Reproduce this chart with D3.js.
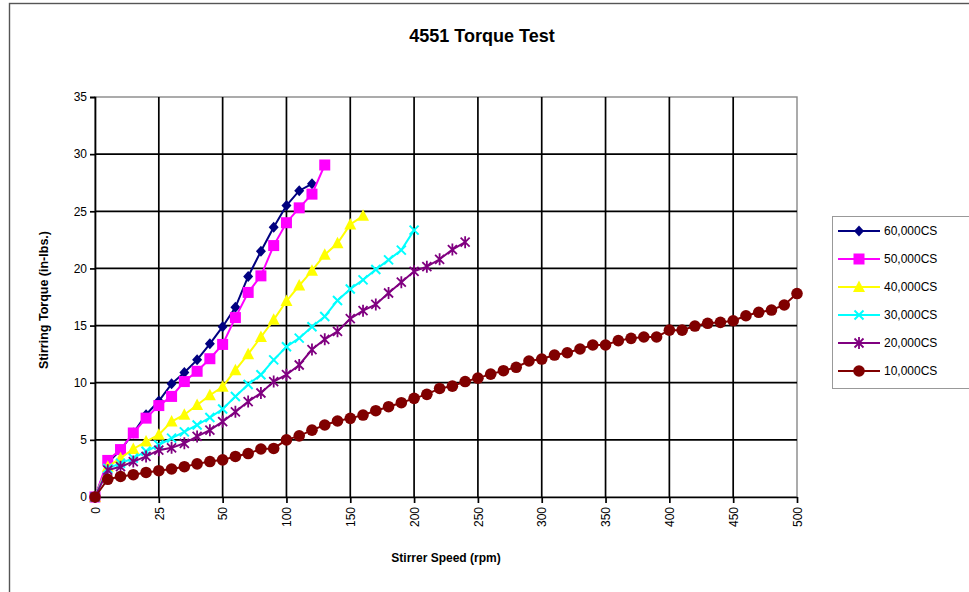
<!DOCTYPE html>
<html>
<head>
<meta charset="utf-8">
<script src="https://cdn.jsdelivr.net/npm/d3@7"></script>
<style>
  body { margin: 0; background: #fff; }
  svg { font-family: Arial, "Liberation Sans", sans-serif; }
</style>
</head>
<body>
<svg id="chart" width="969" height="592"></svg>
<script>
// category axis (Excel line chart) - speeds in rpm
var speeds = [0, 5, 10, 15, 20, 25, 30, 35, 40, 45, 50,
    60, 70, 80, 90, 100, 110, 120, 130, 140, 150, 160, 170, 180, 190, 200,
    210, 220, 230, 240, 250, 260, 270, 280, 290, 300, 310, 320, 330, 340, 350,
    360, 370, 380, 390, 400, 410, 420, 430, 440, 450, 460, 470, 480, 490, 500];
var xTickLabels = [0, 25, 50, 100, 150, 200, 250, 300, 350, 400, 450, 500];
var yTicks = [0, 5, 10, 15, 20, 25, 30, 35];

var seriesNames = ["60,000CS", "50,000CS", "40,000CS", "30,000CS", "20,000CS", "10,000CS"];
var seriesColors = ["#000080", "#ff00ff", "#ffff00", "#00ffff", "#800080", "#800000"];
var seriesMarkers = ["diamond", "square", "triangle", "x", "star", "circle"];

// torque (in-lbs) per speed category, series stop where the test stopped
var torque60k = [0, 3.0, 4.1, 5.6, 7.2, 8.4, 9.9, 10.9, 12.0, 13.4, 14.9,
    16.6, 19.3, 21.5, 23.6, 25.5, 26.8, 27.4];
var torque50k = [0, 3.2, 4.15, 5.6, 6.9, 8.0, 8.8, 10.1, 11.0, 12.1, 13.35,
    15.7, 17.9, 19.35, 22.0, 24.0, 25.3, 26.5, 29.05];
var torque40k = [0, 2.65, 3.4, 4.2, 4.85, 5.45, 6.6, 7.2, 8.05, 8.9, 9.65,
    11.1, 12.5, 14.0, 15.5, 17.15, 18.5, 19.8, 21.2, 22.2, 23.85, 24.6];
var torque30k = [0, 2.5, 2.95, 3.4, 4.0, 4.55, 5.15, 5.7, 6.3, 6.95, 7.7,
    8.8, 9.85, 10.7, 12.0, 13.15, 13.9, 14.9, 15.8, 17.2, 18.2, 19.0, 19.9, 20.75, 21.6, 23.35];
var torque20k = [0, 2.35, 2.65, 3.1, 3.55, 4.1, 4.3, 4.7, 5.3, 5.85, 6.6,
    7.45, 8.35, 9.1, 10.1, 10.7, 11.55, 12.9, 13.8, 14.5, 15.6, 16.3, 16.85, 17.85, 18.8, 19.75,
    20.15, 20.8, 21.65, 22.3];
var torque10k = [0, 1.55, 1.8, 1.95, 2.15, 2.3, 2.45, 2.65, 2.9, 3.1, 3.25,
    3.55, 3.8, 4.2, 4.25, 5.0, 5.35, 5.85, 6.3, 6.65, 6.88, 7.17, 7.55, 7.9, 8.25, 8.63,
    8.98, 9.5, 9.7, 10.1, 10.4, 10.75, 11.05, 11.35, 11.9, 12.07, 12.42, 12.62, 12.95, 13.3, 13.3,
    13.68, 13.88, 14.0, 14.0, 14.6, 14.6, 14.96, 15.2, 15.28, 15.42, 15.86, 16.16, 16.36, 16.8, 17.8];

var allSeries = [torque60k, torque50k, torque40k, torque30k, torque20k, torque10k];

var svg = d3.select("#chart"),
    plot = {left: 95, right: 797, top: 97, bottom: 497};

var x = d3.scalePoint().domain(speeds).range([plot.left, plot.right]),
    y = d3.scaleLinear().domain([0, 35]).range([plot.bottom, plot.top]);

// outer chart border
svg.append("rect")
    .attr("x", 9.5).attr("y", 3.5)
    .attr("width", 975).attr("height", 600)
    .attr("fill", "none").attr("stroke", "#555").attr("stroke-width", 1.4);

// title
svg.append("text")
    .attr("x", 482).attr("y", 42)
    .attr("text-anchor", "middle")
    .attr("font-size", 18).attr("font-weight", "bold")
    .text("4551 Torque Test");

// plot border (gray) then gridlines (black)
svg.append("rect")
    .attr("x", plot.left).attr("y", plot.top)
    .attr("width", plot.right - plot.left).attr("height", plot.bottom - plot.top)
    .attr("fill", "none").attr("stroke", "#888").attr("stroke-width", 1.4);

svg.append("g").selectAll("line")
    .data(yTicks.filter(function (d) { return d > 0 && d < 35; }))
    .enter().append("line")
    .attr("x1", plot.left).attr("x2", plot.right)
    .attr("y1", function (d) { return y(d); }).attr("y2", function (d) { return y(d); })
    .attr("stroke", "#000").attr("stroke-width", 1.7);

svg.append("g").selectAll("line")
    .data(xTickLabels.filter(function (d) { return d > 0 && d < 500; }))
    .enter().append("line")
    .attr("x1", function (d) { return x(d); }).attr("x2", function (d) { return x(d); })
    .attr("y1", plot.top).attr("y2", plot.bottom)
    .attr("stroke", "#000").attr("stroke-width", 1.7);

// axes
var yAxis = d3.axisLeft(y).tickValues(yTicks).tickSize(5).tickPadding(3);
var gy = svg.append("g")
    .attr("transform", "translate(" + plot.left + ",0)")
    .call(yAxis);
gy.select(".domain").attr("stroke-width", 1.7);
gy.selectAll(".tick line").attr("stroke-width", 1.7);
gy.selectAll("text").attr("font-size", 12).attr("font-family", "Arial, 'Liberation Sans', sans-serif");

var xAxis = d3.axisBottom(x).tickValues(xTickLabels).tickSize(6).tickSizeOuter(0);
var gx = svg.append("g")
    .attr("transform", "translate(0," + plot.bottom + ")")
    .call(xAxis);
gx.select(".domain").attr("stroke-width", 1.7);
gx.selectAll(".tick line").attr("stroke-width", 1.7);
gx.selectAll("text")
    .attr("font-size", 12).attr("font-family", "Arial, 'Liberation Sans', sans-serif")
    .attr("text-anchor", "end")
    .attr("x", -10).attr("y", 0).attr("dy", "0.35em")
    .attr("transform", "rotate(-90)");

// axis titles
svg.append("text")
    .attr("transform", "translate(48,300) rotate(-90)")
    .attr("text-anchor", "middle")
    .attr("font-size", 12.5).attr("font-weight", "bold")
    .text("Stirring Torque (in-lbs.)");

svg.append("text")
    .attr("x", 446).attr("y", 562)
    .attr("text-anchor", "middle")
    .attr("font-size", 12).attr("font-weight", "bold")
    .text("Stirrer Speed (rpm)");

function drawMarker(g, type, color) {
    if (type === "diamond") {
        g.append("path").attr("d", "M0,-5.5L5,0L0,5.5L-5,0Z").attr("fill", color);
    } else if (type === "square") {
        g.append("rect").attr("x", -5.5).attr("y", -5.5).attr("width", 11).attr("height", 11).attr("fill", color);
    } else if (type === "triangle") {
        g.append("path").attr("d", "M0,-6.5L6,5L-6,5Z").attr("fill", color);
    } else if (type === "x") {
        g.append("path").attr("d", "M-4.5,-4.5L4.5,4.5M-4.5,4.5L4.5,-4.5")
            .attr("stroke", color).attr("stroke-width", 2).attr("fill", "none");
    } else if (type === "star") {
        g.append("path").attr("d", "M-4.5,-4.5L4.5,4.5M-4.5,4.5L4.5,-4.5M0,-6L0,6")
            .attr("stroke", color).attr("stroke-width", 1.8).attr("fill", "none");
    } else {
        g.append("circle").attr("r", 5.8).attr("fill", color);
    }
}

var line = d3.line()
    .x(function (d, i) { return x(speeds[i]); })
    .y(function (d) { return y(d); });

allSeries.forEach(function (vals, si) {
    var g = svg.append("g").attr("class", "series");
    g.append("path")
        .attr("d", line(vals))
        .attr("fill", "none")
        .attr("stroke", seriesColors[si])
        .attr("stroke-width", 2);
    vals.forEach(function (v, i) {
        var m = g.append("g").attr("transform", "translate(" + x(speeds[i]) + "," + y(v) + ")");
        drawMarker(m, seriesMarkers[si], seriesColors[si]);
    });
});

// legend
var legend = svg.append("g");
legend.append("rect")
    .attr("x", 832.5).attr("y", 216.5)
    .attr("width", 150).attr("height", 172)
    .attr("fill", "#fff").attr("stroke", "#999");

seriesNames.forEach(function (name, i) {
    var ly = 231 + i * 28;
    var lg = legend.append("g");
    lg.append("line")
        .attr("x1", 838).attr("x2", 880)
        .attr("y1", ly).attr("y2", ly)
        .attr("stroke", seriesColors[i]).attr("stroke-width", 2);
    drawMarker(lg.append("g").attr("transform", "translate(859," + ly + ")"), seriesMarkers[i], seriesColors[i]);
    lg.append("text")
        .attr("x", 884).attr("y", ly).attr("dy", "0.35em")
        .attr("font-size", 12)
        .text(name);
});
</script>
</body>
</html>
